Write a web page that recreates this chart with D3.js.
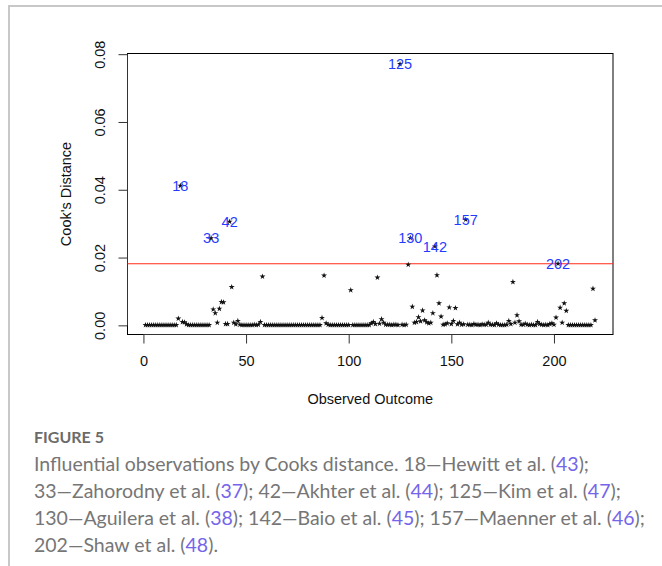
<!DOCTYPE html>
<html>
<head>
<meta charset="utf-8">
<script src="https://cdn.jsdelivr.net/npm/d3@7"></script>
<style>
  html, body { margin: 0; padding: 0; background: #fff; }
  svg { display: block; }
</style>
</head>
<body>
<div id="chart"></div>
<script>
const cooksD = [
  0.0001, 0.0001, 0.0001, 0.0001, 0.0001, 0.0001, 0.0001, 0.0001, 0.0001, 0.0001,
  0.0001, 0.0001, 0.0001, 0.0001, 0.0001, 0.0001, 0.0020, 0.0412, 0.0010, 0.0009,
  0.0003, 0.0001, 0.0001, 0.0001, 0.0001, 0.0001, 0.0001, 0.0001, 0.0001, 0.0001,
  0.0001, 0.0001, 0.0257, 0.0047, 0.0036, 0.0008, 0.0049, 0.0069, 0.0068, 0.0004,
  0.0004, 0.0306, 0.0113, 0.0008, 0.0003, 0.0013, 0.0002, 0.0001, 0.0001, 0.0001,
  0.0001, 0.0001, 0.0001, 0.0002, 0.0001, 0.0002, 0.0010, 0.0144, 0.0001, 0.0001,
  0.0001, 0.0001, 0.0001, 0.0001, 0.0001, 0.0001, 0.0001, 0.0001, 0.0001, 0.0001,
  0.0001, 0.0001, 0.0001, 0.0001, 0.0001, 0.0001, 0.0001, 0.0001, 0.0001, 0.0001,
  0.0001, 0.0001, 0.0001, 0.0001, 0.0001, 0.0001, 0.0022, 0.0147, 0.0006, 0.0002,
  0.0001, 0.0001, 0.0001, 0.0001, 0.0001, 0.0001, 0.0001, 0.0001, 0.0001, 0.0001,
  0.0104, 0.0001, 0.0001, 0.0001, 0.0001, 0.0001, 0.0001, 0.0001, 0.0001, 0.0001,
  0.0006, 0.0010, 0.0004, 0.0141, 0.0005, 0.0018, 0.0008, 0.0002, 0.0002, 0.0002,
  0.0001, 0.0002, 0.0002, 0.0001, 0.0771, 0.0002, 0.0001, 0.0002, 0.0179, 0.0258,
  0.0055, 0.0008, 0.0010, 0.0024, 0.0012, 0.0044, 0.0015, 0.0009, 0.0006, 0.0008,
  0.0036, 0.0233, 0.0148, 0.0065, 0.0026, 0.0002, 0.0003, 0.0006, 0.0053, 0.0004,
  0.0013, 0.0051, 0.0003, 0.0008, 0.0002, 0.0003, 0.0312, 0.0002, 0.0002, 0.0001,
  0.0004, 0.0002, 0.0002, 0.0001, 0.0003, 0.0002, 0.0002, 0.0008, 0.0002, 0.0002,
  0.0001, 0.0006, 0.0002, 0.0001, 0.0001, 0.0001, 0.0002, 0.0013, 0.0004, 0.0128,
  0.0008, 0.0030, 0.0012, 0.0002, 0.0002, 0.0005, 0.0002, 0.0001, 0.0002, 0.0001,
  0.0001, 0.0010, 0.0004, 0.0002, 0.0001, 0.0002, 0.0001, 0.0004, 0.0006, 0.0002,
  0.0023, 0.0182, 0.0052, 0.0008, 0.0065, 0.0043, 0.0001, 0.0001, 0.0001, 0.0001,
  0.0001, 0.0001, 0.0001, 0.0001, 0.0001, 0.0001, 0.0001, 0.0001, 0.0108, 0.0015
];
// observations flagged above the 4/n line
const influential = [18, 33, 42, 125, 130, 142, 157, 202];
const cutoff = 4 / cooksD.length;

const xTicks = [0, 50, 100, 150, 200];
const yTicks = [0, 0.02, 0.04, 0.06, 0.08];

const captionTitle = 'FIGURE 5';
const captionLines = [
  'Influential observations by Cooks distance. 18\u2014Hewitt et al. (43);',
  '33\u2014Zahorodny et al. (37); 42\u2014Akhter et al. (44); 125\u2014Kim et al. (47);',
  '130\u2014Aguilera et al. (38); 142\u2014Baio et al. (45); 157\u2014Maenner et al. (46);',
  '202\u2014Shaw et al. (48).'
];

const W = 662, H = 566;
const box = { left: 127.5, right: 613, top: 53.5, bottom: 334.5 };
const rFont = '"Liberation Sans", Arial, sans-serif';

const svg = d3.select('#chart').append('svg')
  .attr('width', W).attr('height', H);

// card frame
svg.append('path')
  .attr('d', `M9,${H} V6 H${W}`)
  .attr('fill', 'none').attr('stroke', '#c8c8c8').attr('stroke-width', 2);

const x = d3.scaleLinear().domain([-7.76, 228.76]).range([box.left, box.right]);
const y = d3.scaleLinear().domain([-0.0027, 0.0802]).range([box.bottom, box.top]);

const points = cooksD.map((v, i) => ({ id: i + 1, v }));

// plot box
svg.append('rect')
  .attr('x', box.left).attr('y', box.top)
  .attr('width', box.right - box.left).attr('height', box.bottom - box.top)
  .attr('fill', 'none').attr('stroke', '#000').attr('stroke-width', 1);

// axes
const xAxis = svg.append('g')
  .attr('transform', `translate(0,${box.bottom})`)
  .call(d3.axisBottom(x).tickValues(xTicks).tickSize(9).tickPadding(12).tickFormat(d3.format('d')));
const yAxis = svg.append('g')
  .attr('transform', `translate(${box.left},0)`)
  .call(d3.axisLeft(y).tickValues(yTicks).tickSize(9).tickFormat(d3.format('.2f')));

[xAxis, yAxis].forEach(g => {
  g.select('.domain').remove();
  g.selectAll('line').attr('stroke', '#333');
  g.selectAll('text').attr('font-family', rFont).attr('font-size', 14.5).attr('fill', '#111');
});
svg.append('line')
  .attr('x1', x(0)).attr('x2', x(200))
  .attr('y1', box.bottom).attr('y2', box.bottom).attr('stroke', '#333');
svg.append('line')
  .attr('x1', box.left).attr('x2', box.left)
  .attr('y1', y(0)).attr('y2', y(0.08)).attr('stroke', '#333');

// R-style y labels, parallel to the axis
yAxis.selectAll('.tick text')
  .attr('x', null).attr('dy', null)
  .attr('text-anchor', 'middle')
  .attr('transform', 'translate(-28,0) rotate(-90)')
  .attr('dy', '0.35em');

// axis titles
svg.append('text')
  .attr('x', (box.left + box.right) / 2).attr('y', 404)
  .attr('text-anchor', 'middle')
  .attr('font-family', rFont).attr('font-size', 14.5).attr('fill', '#111')
  .text('Observed Outcome');
svg.append('text')
  .attr('transform', `translate(66,${(box.top + box.bottom) / 2}) rotate(-90)`)
  .attr('text-anchor', 'middle').attr('dy', '0.35em')
  .attr('font-family', rFont).attr('font-size', 14.5).attr('fill', '#111')
  .text("Cook's Distance");

// cutoff line
svg.append('line')
  .attr('x1', box.left).attr('x2', box.right)
  .attr('y1', y(cutoff)).attr('y2', y(cutoff))
  .attr('stroke', '#ff2a1a').attr('stroke-width', 1.1);

// points (pch = "*")
const star = d3.symbol().type(d3.symbolStar).size(11);
svg.append('g').selectAll('path')
  .data(points)
  .join('path')
  .attr('transform', d => `translate(${x(d.id)},${y(d.v)})`)
  .attr('d', star)
  .attr('fill', '#111');

// labels of influential observations
svg.append('g').selectAll('text')
  .data(points.filter(d => influential.includes(d.id)))
  .join('text')
  .attr('x', d => x(d.id)).attr('y', d => y(d.v))
  .attr('dy', '0.36em')
  .attr('text-anchor', 'middle')
  .attr('font-family', rFont).attr('font-size', 14.5)
  .attr('fill', '#1f3cff')
  .text(d => d.id);

// caption
const capFont = 'Lato, "Open Sans", sans-serif';
svg.append('text')
  .attr('x', 34).attr('y', 443)
  .attr('font-family', capFont).attr('font-size', 16).attr('font-weight', 700)
  .attr('fill', '#6b6b6b')
  .text(captionTitle);

const cap = svg.append('text')
  .attr('font-family', capFont).attr('font-size', 19.5).attr('font-weight', 400)
  .attr('fill', '#767676');
captionLines.forEach((line, i) => {
  const parts = line.split(/\((\d+)\)/);
  parts.forEach((p, j) => {
    if (j % 2 === 1) {
      cap.append('tspan').text('(');
      cap.append('tspan').attr('fill', '#7565ea').text(p);
      cap.append('tspan').text(')');
    } else {
      const t = cap.append('tspan').text(p);
      if (j === 0) t.attr('x', 34).attr('y', 471 + i * 27);
    }
  });
});
</script>
</body>
</html>
